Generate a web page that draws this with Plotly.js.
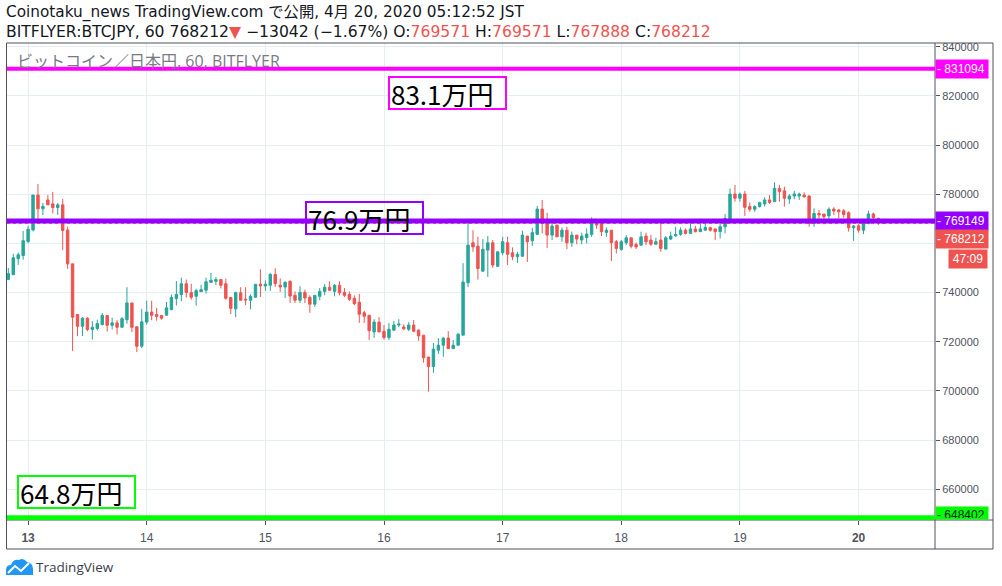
<!DOCTYPE html>
<html>
<head>
<meta charset="utf-8">
<script src="https://cdn.plot.ly/plotly-3.0.1.min.js"></script>
<style>
html,body{margin:0;padding:0;background:#fff;}
#chart{width:1002px;height:586px;}
</style>
</head>
<body>
<div id="chart"></div>
<script>
// Hourly BTC/JPY candles, Apr 12 20:00 -> Apr 20 05:00 (JST)
const firstCandle = '2020-04-12T20:00:00Z';
const opens = [745300,747300,753800,755100,760800,765500,779700,774100,777700,776100,774600,775700,765500,751700,731100,726300,729600,725000,725400,727000,730700,726700,727700,725900,729000,735800,726100,718200,728000,732100,731100,730700,730800,733100,737600,739200,743600,740000,738500,740400,741000,744200,744600,745300,743600,738000,733400,739900,737300,736900,738100,743400,742700,743000,747400,743000,742300,744600,738900,736900,740100,738100,735300,738500,740500,742200,740500,743000,740100,739300,737700,736100,731800,730800,724000,728000,724300,721700,724700,726800,726000,725100,726800,724700,722700,713800,709900,716600,718600,721500,717200,718600,722700,744000,760300,758900,748700,757300,760300,750700,756200,760300,756200,754600,754800,763000,761100,763700,774000,768800,763400,767500,762700,765400,760300,763400,761400,762400,763700,768200,768200,764500,765400,760700,757600,760300,762300,759600,759300,763000,761400,759700,761400,757700,761800,763100,763700,765400,764100,765900,764800,765400,766400,765900,764800,766800,769500,780100,778400,780100,775000,773900,775000,776100,777700,777000,782400,781400,778100,779300,779300,779700,779300,768200,772200,772000,771200,774000,773600,773300,772500,766400,767200,765400,768200,772000,770200,769571];
const highs = [750000,755800,756300,765100,767200,779700,784200,776500,779700,781000,776500,778100,766900,751700,731100,730000,730000,728400,729000,731700,730700,729800,728800,730000,742200,735800,726100,733400,736700,736700,733800,730700,736200,739200,744700,746100,745300,743600,741600,743200,746100,748000,746300,745300,745700,738000,740400,742200,742200,739300,743400,749500,745000,748100,749900,745800,744600,745000,740500,742600,741200,738900,738900,741900,743500,744600,743500,744600,741900,740500,738900,739500,732600,730800,729200,730000,726800,727600,728500,729200,727100,728000,728800,725100,722700,713800,719500,721500,721900,724300,720700,723500,752000,768900,765400,762700,761800,763000,761400,756600,762700,762700,758400,756600,765200,763000,766400,775200,777700,772500,768800,767500,766500,766800,764800,763400,764400,766100,770600,769800,769500,766500,765400,761400,761400,763400,762300,760400,764800,764400,763400,762300,769900,763000,764800,766800,766500,766100,768200,767100,768200,769100,766800,766100,768200,772000,782400,783800,780700,781400,776700,775600,777000,778800,779700,784900,783800,783100,780100,781400,780700,780800,779700,774300,773600,772000,774700,774700,774000,774000,773100,767500,767900,768800,773300,772600,770500,769571];
const lows = [745300,747300,751300,753400,760100,764900,769900,771600,775700,772200,771600,757400,749700,716200,722300,722300,724300,720900,724600,726700,724200,725000,723000,725900,727400,723900,715800,717400,727000,728800,728600,729000,730800,732800,734800,736500,738000,737100,734700,740400,739600,744200,743100,741700,737100,731300,730000,736900,734900,733200,738100,738200,740700,740700,742300,740300,737800,735800,735800,735800,735800,731800,734200,736900,738900,740700,738500,738900,738200,736600,734900,727700,727700,720700,721600,723900,720900,720700,724700,725900,724700,724300,723900,720400,711500,699700,707400,715100,713900,717200,717200,718600,722700,742300,756600,745300,748700,746400,750100,750700,755200,751200,753200,752100,754800,752500,759000,763400,764100,758200,761400,762700,760700,757700,758600,759700,759700,760000,762700,766000,763000,762700,752900,755900,757000,759300,758000,757700,759300,759300,759000,759700,756600,757700,761400,762700,763100,763700,764100,764500,764800,765400,764800,761400,762000,764100,768200,777000,777000,771200,772900,772900,774600,775000,776100,777000,777000,775000,776100,778000,777700,778600,766800,766800,769300,767800,769500,771600,770200,770500,764800,761100,764400,763800,767800,769500,767500,767888];
const closes = [747700,754200,755400,761100,765800,779700,774100,775100,775700,774600,775700,765300,751700,730000,726300,729600,725000,725900,727400,730700,726700,727700,725900,729400,735800,725900,718200,728100,732100,730800,730300,729600,733800,738000,739200,743600,740100,738100,740800,741200,744400,745000,745300,743000,737700,733600,740000,736900,737000,738500,743400,742700,743400,747400,743700,742300,744200,738600,736900,740100,737800,735300,738900,740500,742200,741000,743000,739900,738900,737300,735500,731200,730400,724500,728000,724000,721700,725100,726800,727200,725300,726800,724300,722400,713500,709900,717000,718600,721500,717200,718600,723100,744300,759300,758600,749800,757600,760300,751200,756600,760700,755600,754600,755600,763400,760700,764400,774000,768200,763400,767100,762700,765400,760300,763400,761800,763000,763800,768200,767500,764800,765400,760300,758000,760700,762300,758900,758600,762700,760700,759700,760700,758000,762300,763000,763700,765400,764100,765900,764800,765900,766500,765400,764800,766800,770200,780100,778400,780100,774700,773900,775000,776600,777700,776700,782400,781100,778400,779300,780100,780100,779000,768200,772200,771600,770900,773900,773200,772900,771800,766400,767100,765400,768200,772000,770500,769500,768212];

const dayTicks = ['2020-04-13','2020-04-14','2020-04-15','2020-04-16','2020-04-17','2020-04-18','2020-04-19','2020-04-20'];
const dayLabels = ['<b>13</b>','14','15','16','17','18','19','<b>20</b>'];
// price scale ticks; 760000 is hidden behind the last-price labels in the original
const priceTicks = [660000,680000,700000,720000,740000,760000,780000,800000,820000,840000];
const priceLabels = ['660000','680000','700000','720000','740000','','780000','800000','820000','840000'];

const levelPrices = [831094, 769149, 648402];
const levelColors = ['#ff00ff', '#9400ff', '#00ff00'];
const levelTexts = ['83.1万円', '76.9万円', '64.8万円'];
const lastPrice = 768212;
const countdown = '47:09';

const t0 = Date.parse(firstCandle);
const times = opens.map((_, i) => new Date(t0 + i * 3600000).toISOString().slice(0, 19).replace('T', ' '));

// pixel helpers for decorations (plot area: x 7..935, y 43..520)
const PL = 7, PR = 935, PT = 43, PB = 520;
const px = x => (x - PL) / (PR - PL);
const py = y => (PB - y) / (PB - PT);

const trace = {
  type: 'candlestick',
  x: times, open: opens, high: highs, low: lows, close: closes,
  increasing: {line: {color: '#26a69a', width: 1}, fillcolor: '#26a69a'},
  decreasing: {line: {color: '#ef5350', width: 1}, fillcolor: '#ef5350'},
  whiskerwidth: 0,
  hoverinfo: 'skip'
};

const frameColor = '#50535e';
const shapes = [
  {type:'rect', xref:'paper', yref:'paper', x0:px(6.5), x1:px(993), y0:py(549), y1:py(43), line:{color:frameColor, width:1}},
  {type:'line', xref:'paper', yref:'paper', x0:1, x1:1, y0:py(549), y1:1, line:{color:frameColor, width:1}},
  {type:'line', xref:'paper', yref:'paper', x0:0, x1:px(993), y0:0, y1:0, line:{color:frameColor, width:1}},
  {type:'line', xref:'paper', yref:'y', x0:0, x1:1, y0:lastPrice, y1:lastPrice, line:{color:'#ef5350', width:1, dash:'dot'}},
  {type:'line', xref:'paper', yref:'y', x0:0, x1:1, y0:levelPrices[0], y1:levelPrices[0], line:{color:levelColors[0], width:4}},
  {type:'line', xref:'paper', yref:'y', x0:0, x1:1, y0:levelPrices[1], y1:levelPrices[1], line:{color:levelColors[1], width:5}},
  {type:'line', xref:'paper', yref:'y', x0:0, x1:1, y0:levelPrices[2], y1:levelPrices[2], line:{color:levelColors[2], width:5}},
  // TradingView logo cloud
  {type:'path', xref:'paper', yref:'paper', fillcolor:'#2196f3', line:{width:0},
   path:`M ${px(6)} ${py(575)} L ${px(6)} ${py(570)} Q ${px(6)} ${py(565)} ${px(11)} ${py(565)} Q ${px(13)} ${py(559)} ${px(19)} ${py(560)} Q ${px(23)} ${py(557)} ${px(27)} ${py(562)} Q ${px(33)} ${py(563)} ${px(33)} ${py(569)} L ${px(33)} ${py(575)} Z`},
  {type:'path', xref:'paper', yref:'paper', line:{color:'#ffffff', width:2},
   path:`M ${px(8)} ${py(573)} L ${px(15)} ${py(566)} L ${px(21)} ${py(571)} L ${px(29)} ${py(563)}`}
];

const red = '#ef5350';
const sp = s => `<span style="color:${red}">${s}</span>`;
const boxFont = {family:'Noto Sans CJK JP', size:26, color:'#000'};
const lblFont = c => ({family:'Liberation Sans', size:12, color:c});
const headFam = 'DejaVu Sans, Noto Sans CJK JP';
const headerLine1 = 'Coinotaku_news TradingView.com で公開, 4月 20, 2020 05:12:52 JST';
const headerLine2 = 'BITFLYER:BTCJPY, 60 768212' + sp('▼') + ' −13042 (−1.67%) O:' + sp('769571') + ' H:' + sp('769571') + ' L:' + sp('767888') + ' C:' + sp('768212');
const annotations = [
  {xref:'paper', yref:'paper', x:px(4), y:py(12), xanchor:'left', yanchor:'middle', showarrow:false,
   text:headerLine1, font:{family:headFam, size:15.3, color:'#131722'}},
  {xref:'paper', yref:'paper', x:px(4), y:py(32), xanchor:'left', yanchor:'middle', showarrow:false,
   text:headerLine2, font:{family:headFam, size:15.6, color:'#131722'}},
  {xref:'paper', yref:'paper', x:px(15), y:py(61), xanchor:'left', yanchor:'middle', showarrow:false, height:18,
   text:'ビットコイン／日本円, 60, BITFLYER', font:{family:'Open Sans, Noto Sans CJK JP', size:16, color:'#787b86'}},
  // level text boxes
  {xref:'paper', yref:'paper', x:px(388), y:py(76), xanchor:'left', yanchor:'top', showarrow:false, align:'left',
   text:levelTexts[0], font:boxFont, bgcolor:'#ffffff', bordercolor:levelColors[0], borderwidth:2, borderpad:1, width:113, height:28},
  {xref:'paper', yref:'paper', x:px(305), y:py(201), xanchor:'left', yanchor:'top', showarrow:false, align:'left',
   text:levelTexts[1], font:boxFont, bgcolor:'rgba(255,255,255,0)', bordercolor:levelColors[1], borderwidth:2, borderpad:1, width:113, height:28},
  {xref:'paper', yref:'paper', x:px(17), y:py(475), xanchor:'left', yanchor:'top', showarrow:false, align:'left',
   text:levelTexts[2], font:boxFont, bgcolor:'#ffffff', bordercolor:levelColors[2], borderwidth:2, borderpad:1, width:113, height:28},
  // price-scale labels
  {xref:'paper', yref:'y', x:1, y:levelPrices[0], xanchor:'left', yanchor:'middle', showarrow:false,
   text:'- ' + levelPrices[0], font:lblFont('#fff'), bgcolor:levelColors[0], width:50, height:16, align:'left'},
  {xref:'paper', yref:'y', x:1, y:levelPrices[1], xanchor:'left', yanchor:'middle', showarrow:false,
   text:'- ' + levelPrices[1], font:lblFont('#fff'), bgcolor:levelColors[1], width:50, height:16, align:'left'},
  {xref:'paper', yref:'y', x:1, y:lastPrice, xanchor:'left', yanchor:'middle', yshift:-16, showarrow:false,
   text:'- ' + lastPrice, font:lblFont('#fff'), bgcolor:red, width:50, height:16, align:'left'},
  {xref:'paper', yref:'y', x:px(948), y:lastPrice, xanchor:'left', yanchor:'middle', yshift:-36, showarrow:false,
   text:countdown, font:lblFont('#fff'), bgcolor:red, width:36, height:16, align:'center'},
  {xref:'paper', yref:'paper', x:1, y:0, xanchor:'left', yanchor:'bottom', showarrow:false, valign:'top',
   text:'- ' + levelPrices[2], font:lblFont('#131722'), bgcolor:levelColors[2], width:50, height:10, align:'left'},
  {xref:'paper', yref:'paper', x:px(34), y:py(567), xanchor:'left', yanchor:'middle', showarrow:false,
   text:'TradingView', font:{family:'Open Sans', size:13.5, color:'#3a3e4a'}}
];

const layout = {
  width: 1002, height: 586,
  margin: {l: PL, r: 1002 - PR, t: PT, b: 586 - PB},
  paper_bgcolor: '#ffffff', plot_bgcolor: '#ffffff',
  showlegend: false,
  xaxis: {
    type: 'date', range: ['2020-04-12 19:44', '2020-04-20 15:28'],
    tickvals: dayTicks, ticktext: dayLabels,
    ticks: 'outside', ticklen: 4, tickcolor: frameColor, ticklabelstandoff: 3,
    tickfont: {family: 'Liberation Sans', size: 12, color: '#50535e'},
    showgrid: true, gridcolor: '#e6edf3', zeroline: false, showline: false,
    rangeslider: {visible: false}, fixedrange: true
  },
  yaxis: {
    side: 'right', range: [647500, 841550],
    tickvals: priceTicks, ticktext: priceLabels,
    ticks: 'outside', ticklen: 4, tickcolor: frameColor,
    tickfont: {family: 'Liberation Sans', size: 11, color: '#50535e'},
    showgrid: true, gridcolor: '#e6edf3', zeroline: false, showline: false, fixedrange: true
  },
  shapes: shapes,
  annotations: annotations
};

Plotly.newPlot('chart', [trace], layout, {displayModeBar: false, staticPlot: true});
</script>
</body>
</html>
